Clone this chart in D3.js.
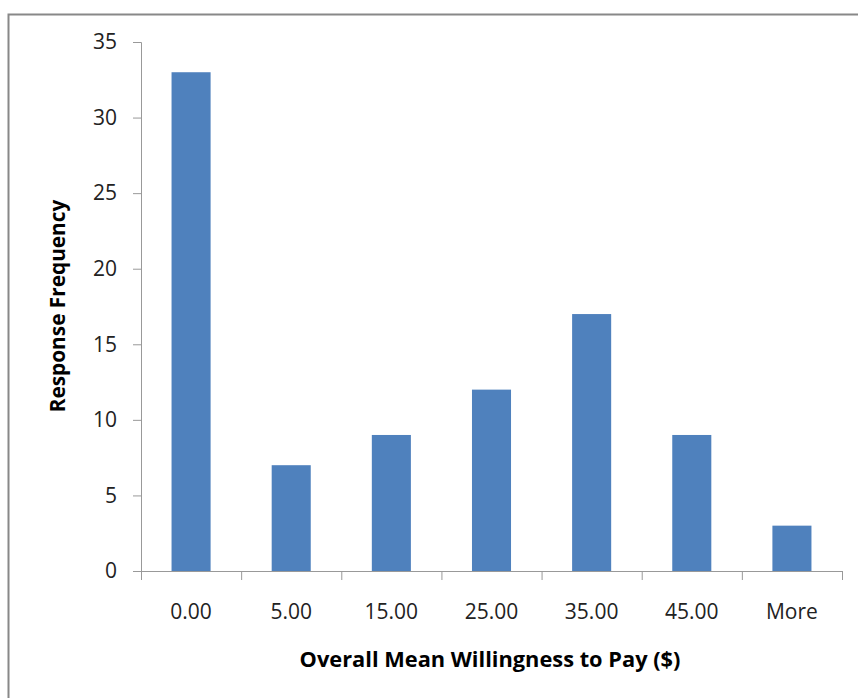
<!DOCTYPE html>
<html>
<head>
<meta charset="utf-8">
<script src="https://cdn.jsdelivr.net/npm/d3@7"></script>
<style>
  body { margin: 0; background: white; }
  svg { display: block; font-family: "Open Sans", "Noto Sans", sans-serif; }
</style>
</head>
<body>
<svg id="chart" width="858" height="698"></svg>
<script>
// bins and counts
const categories = ["0.00", "5.00", "15.00", "25.00", "35.00", "45.00", "More"];
const counts = [33, 7, 9, 12, 17, 9, 3];
const yTicks = [0, 5, 10, 15, 20, 25, 30, 35];

window.addEventListener("load", main);

function main()
{
    const svg = d3.select("svg#chart");
    const left = 141, right = 842, top = 42, bottom = 571;

    // outer frame (cut on the right and bottom like the screenshot)
    svg.append("path")
        .attr("d", "M8.5,698 L8.5,14.5 L858,14.5")
        .attr("fill", "none").attr("stroke", "#888").attr("stroke-width", 2);

    const x = d3.scaleBand().domain(categories).range([left, right]).paddingInner(0.61).paddingOuter(0.305);
    const y = d3.scaleLinear().domain([0, 35]).range([bottom, top]);

    svg.selectAll("rect.bar").data(categories).join("rect")
        .attr("class", "bar")
        .attr("x", d => x(d))
        .attr("width", x.bandwidth())
        .attr("y", (d, i) => y(counts[i]))
        .attr("height", (d, i) => y(0) - y(counts[i]))
        .attr("fill", "#4f81bd");

    // y axis
    const yAxis = svg.append("g").attr("transform", `translate(${left},0)`)
        .call(d3.axisLeft(y).tickValues(yTicks).tickSize(8).tickPadding(16));
    yAxis.attr("font-size", 21).attr("font-family", "Open Sans");
    yAxis.selectAll("path, line").attr("stroke", "#999");
    yAxis.selectAll("text").attr("fill", "#222");

    // x axis: ticks on band edges, labels centred in bands
    const edges = categories.map(d => x(d) - x.step() * x.paddingInner() / 2).concat([right]);
    const xg = svg.append("g");
    xg.append("line").attr("x1", left).attr("x2", right).attr("y1", bottom + 0.5).attr("y2", bottom + 0.5)
        .attr("stroke", "#999");
    xg.selectAll("line.tick").data(edges).join("line")
        .attr("class", "tick")
        .attr("x1", d => d + 0.5).attr("x2", d => d + 0.5)
        .attr("y1", bottom).attr("y2", bottom + 9)
        .attr("stroke", "#999");
    xg.selectAll("text").data(categories).join("text")
        .attr("x", d => x(d) + x.bandwidth() / 2)
        .attr("y", 619)
        .attr("text-anchor", "middle")
        .attr("font-size", 21)
        .attr("fill", "#222")
        .text(d => d);

    svg.append("text")
        .attr("x", 490).attr("y", 667)
        .attr("text-anchor", "middle")
        .attr("font-size", 21.8).attr("font-weight", "bold").attr("fill", "#000")
        .text("Overall Mean Willingness to Pay ($)");

    svg.append("text")
        .attr("transform", "translate(65,306) rotate(-90)")
        .attr("text-anchor", "middle")
        .attr("font-size", 20.8).attr("font-weight", "bold").attr("fill", "#000")
        .text("Response Frequency");
}
</script>
</body>
</html>
